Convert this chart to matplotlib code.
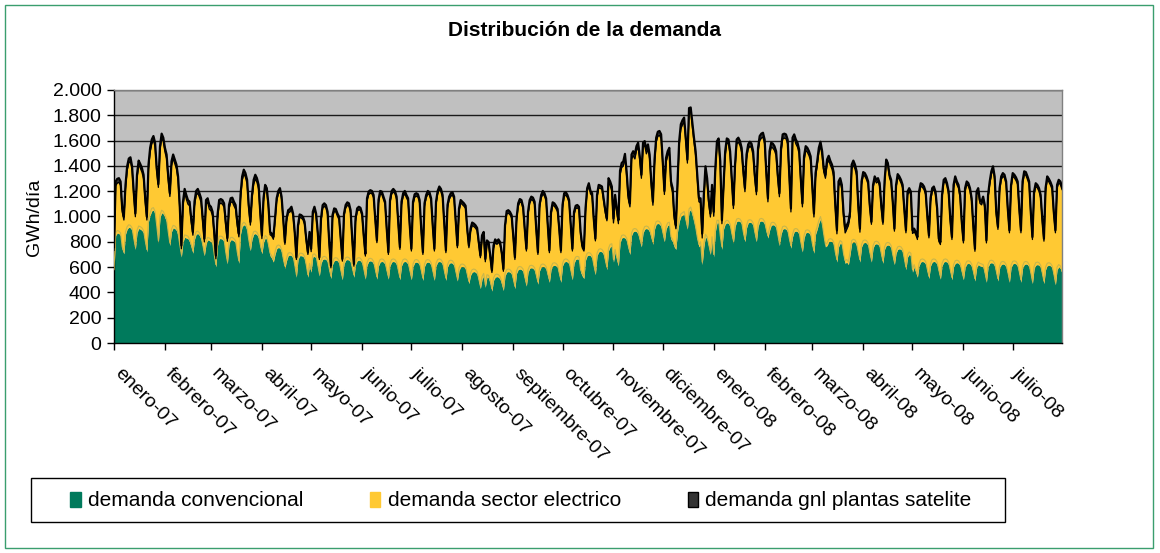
import numpy as np
import pandas as pd
import matplotlib
matplotlib.use("Agg")
import matplotlib.pyplot as plt
import matplotlib.transforms as mtransforms
from matplotlib.patches import Patch, Rectangle

plt.rcParams['font.family'] = ['Liberation Sans', 'DejaVu Sans']

title = "Distribución de la demanda"
ylabel = "GWh/día"
series_names = ["demanda convencional", "demanda sector electrico",
                "demanda gnl plantas satelite"]
month_labels = ["enero-07", "febrero-07", "marzo-07", "abril-07", "mayo-07",
                "junio-07", "julio-07", "agosto-07", "septiembre-07",
                "octubre-07", "noviembre-07", "diciembre-07", "enero-08",
                "febrero-08", "marzo-08", "abril-08", "mayo-08", "junio-08",
                "julio-08"]
start_date = "2007-01-01"
end_date = "2008-07-31"

# total daily demand (GWh/day), one week (Mon..Sun) per line
total_demand = [
    758, 1277, 1298, 1303, 1277, 1064, 998,
    1250, 1397, 1458, 1468, 1397, 1197, 1024,
    1330, 1442, 1415, 1383, 1330, 1144, 998,
    1410, 1543, 1609, 1636, 1583, 1383, 1256,
    1556, 1655, 1623, 1543, 1490, 1317, 1184,
    1436, 1490, 1450, 1410, 1317, 1091, 771,
    1117, 1218, 1170, 1130, 1117, 984, 878,
    1117, 1202, 1218, 1184, 1144, 984, 825,
    1130, 1144, 1091, 1077, 1037, 878, 692,
    1011, 1130, 1138, 1130, 1104, 958, 830,
    1091, 1144, 1149, 1117, 1091, 958, 865,
    1170, 1317, 1370, 1343, 1290, 1091, 958,
    1170, 1290, 1330, 1303, 1250, 1037, 851,
    1144, 1250, 1224, 1091, 878, 865, 838,
    984, 1144, 1202, 1224, 1157, 984, 798,
    984, 1050, 1059, 1077, 1024, 878, 678,
    931, 1016, 1011, 997, 958, 825, 718,
    878, 745, 1037, 1077, 1024, 878, 678,
    984, 1090, 1104, 1090, 1037, 798, 612,
    1011, 1064, 1059, 1024, 997, 825, 665,
    1024, 1091, 1112, 1104, 1050, 825, 625,
    984, 1064, 1077, 1069, 1024, 851, 705,
    1144, 1197, 1208, 1202, 1170, 984, 811,
    1130, 1202, 1197, 1157, 1117, 904, 718,
    1130, 1202, 1218, 1202, 1157, 958, 758,
    1117, 1184, 1202, 1170, 1144, 931, 745,
    1117, 1176, 1184, 1176, 1130, 904, 718,
    1104, 1170, 1202, 1192, 1144, 931, 745,
    1117, 1202, 1237, 1218, 1170, 958, 732,
    1091, 1157, 1184, 1192, 1157, 958, 771,
    1064, 1130, 1117, 1104, 1085, 904, 771,
    904, 952, 944, 931, 910, 798, 692,
    851, 878, 665, 811, 798, 692, 575,
    771, 819, 803, 819, 798, 718, 585,
    931, 1043, 1050, 1037, 1011, 851, 678,
    984, 1104, 1138, 1130, 1077, 904, 745,
    1037, 1130, 1157, 1149, 1117, 904, 718,
    1091, 1170, 1202, 1184, 1144, 931, 732,
    1037, 1112, 1104, 1085, 1059, 904, 732,
    1091, 1184, 1192, 1170, 1130, 931, 745,
    1037, 1085, 1091, 1077, 878, 771, 745,
    1064, 1224, 1263, 1202, 1184, 984, 825,
    1171, 1250, 1245, 1237, 1144, 1050, 984,
    1303, 1277, 1237, 984, 1171, 1064, 971,
    1362, 1423, 1436, 1495, 1357, 1170, 1104,
    1490, 1516, 1490, 1556, 1583, 1476, 1330,
    1583, 1596, 1530, 1570, 1490, 1277, 1117,
    1450, 1623, 1670, 1676, 1650, 1436, 1202,
    1463, 1516, 1543, 1277, 1224, 1011, 931,
    1277, 1596, 1729, 1761, 1782, 1623, 1450,
    1857, 1862, 1742, 1623, 1516, 1330, 1144,
    1144, 865, 1170, 1397, 1303, 1130, 1024,
    1250, 1037, 1383, 1596, 1617, 1436, 971,
    1250, 1516, 1617, 1609, 1516, 1303, 1091,
    1410, 1609, 1623, 1596, 1543, 1370, 1224,
    1490, 1570, 1591, 1576, 1516, 1330, 1200,
    1543, 1636, 1655, 1662, 1609, 1357, 1144,
    1516, 1583, 1576, 1556, 1516, 1330, 1184,
    1543, 1649, 1655, 1649, 1609, 1330, 1064,
    1623, 1649, 1609, 1583, 1530, 1303, 1104,
    1476, 1556, 1543, 1516, 1476, 1250, 1024,
    1343, 1436, 1543, 1591, 1516, 1380, 1330,
    1450, 1480, 1440, 1410, 1350, 1100, 891,
    1277, 1303, 1250, 1037, 904, 931, 958,
    1037, 1410, 1442, 1410, 1357, 1091, 904,
    1277, 1351, 1343, 1317, 1277, 1091, 958,
    1250, 1317, 1290, 1303, 1264, 1091, 958,
    1277, 1450, 1423, 1330, 1290, 1117, 904,
    1250, 1335, 1317, 1290, 1250, 1064, 891,
    1197, 1224, 1197, 891, 904, 878, 838,
    1197, 1263, 1256, 1237, 1197, 1011, 851,
    1144, 1224, 1237, 1197, 1064, 825, 798,
    1171, 1290, 1303, 1264, 1197, 984, 838,
    1250, 1317, 1277, 1250, 1170, 958, 811,
    1224, 1277, 1264, 1224, 1144, 931, 745,
    1197, 1224, 1130, 1117, 1157, 1091, 811,
    1170, 1277, 1357, 1397, 1317, 1037, 918,
    1224, 1317, 1343, 1330, 1277, 1064, 891,
    1250, 1343, 1330, 1309, 1277, 1064, 891,
    1277, 1357, 1351, 1317, 1277, 1037, 838,
    1197, 1263, 1250, 1224, 1170, 984, 825,
    1224, 1317, 1298, 1272, 1237, 1037, 891,
    1250, 1290, 1277, 1237,
]

# conventional demand (GWh/day)
conv_demand = [
    560, 850, 870, 865, 850, 740, 705,
    860, 900, 915, 910, 890, 810, 740,
    870, 905, 900, 890, 870, 790, 720,
    960, 1010, 1045, 1050, 1020, 910, 790,
    990, 1030, 1020, 990, 960, 860, 770,
    880, 910, 905, 890, 850, 760, 680,
    800, 835, 830, 825, 800, 760, 710,
    820, 860, 865, 850, 820, 760, 690,
    780, 815, 810, 800, 780, 680, 600,
    770, 825, 825, 820, 800, 700, 626,
    780, 815, 815, 805, 790, 700, 630,
    860, 920, 935, 925, 890, 800, 730,
    820, 860, 865, 855, 830, 760, 706,
    790, 830, 820, 760, 690, 670, 640,
    700, 745, 755, 750, 720, 650, 590,
    650, 690, 695, 690, 670, 600, 520,
    660, 690, 690, 685, 665, 600, 520,
    610, 560, 680, 685, 670, 600, 530,
    630, 660, 665, 660, 640, 570, 510,
    620, 650, 655, 650, 630, 560, 500,
    625, 655, 660, 655, 640, 580, 520,
    620, 650, 655, 650, 630, 570, 505,
    615, 645, 650, 645, 625, 565, 505,
    610, 640, 645, 640, 620, 560, 505,
    610, 640, 645, 640, 620, 560, 500,
    610, 640, 645, 640, 620, 560, 500,
    605, 635, 640, 635, 615, 555, 495,
    605, 635, 640, 635, 615, 555, 495,
    610, 640, 645, 640, 620, 555, 495,
    600, 630, 635, 630, 610, 550, 490,
    575, 600, 605, 600, 585, 525, 470,
    535, 560, 565, 560, 545, 490, 430,
    505, 530, 440, 520, 515, 470, 410,
    495, 520, 525, 520, 505, 465, 415,
    530, 560, 565, 560, 545, 490, 430,
    550, 580, 585, 580, 565, 505, 450,
    560, 590, 595, 590, 575, 520, 465,
    570, 600, 605, 600, 585, 530, 480,
    580, 610, 615, 610, 595, 535, 480,
    610, 640, 645, 640, 625, 560, 500,
    630, 660, 665, 660, 560, 530, 510,
    655, 690, 695, 690, 670, 600, 540,
    690, 720, 725, 720, 700, 640, 580,
    730, 760, 765, 640, 720, 660, 610,
    790, 830, 835, 830, 810, 750, 700,
    850, 880, 885, 880, 860, 810, 760,
    870, 900, 905, 900, 880, 830, 780,
    900, 940, 945, 940, 920, 860, 800,
    900, 930, 935, 820, 800, 760, 740,
    880, 960, 1000, 1010, 1020, 960, 900,
    1040, 1055, 1010, 960, 900, 820, 760,
    780, 620, 760, 840, 820, 760, 700,
    820, 680, 880, 950, 950, 830, 740,
    900, 940, 950, 945, 920, 850, 790,
    920, 960, 965, 960, 940, 860, 800,
    910, 950, 955, 950, 930, 860, 800,
    920, 960, 965, 960, 940, 880, 830,
    890, 930, 935, 930, 910, 840, 770,
    860, 900, 905, 900, 880, 810, 750,
    840, 880, 885, 880, 860, 780, 720,
    830, 870, 875, 870, 850, 770, 710,
    860, 900, 950, 980, 930, 840, 760,
    770, 800, 805, 800, 780, 700, 640,
    760, 790, 780, 690, 630, 640, 620,
    700, 790, 800, 795, 770, 700, 640,
    760, 790, 795, 790, 770, 700, 640,
    750, 780, 785, 780, 760, 690, 630,
    740, 770, 775, 770, 750, 680, 620,
    710, 740, 745, 740, 720, 650, 580,
    680, 700, 690, 560, 600, 560, 520,
    610, 640, 645, 640, 625, 565, 510,
    610, 640, 645, 640, 620, 560, 505,
    610, 640, 645, 640, 620, 560, 500,
    600, 630, 635, 630, 610, 555, 500,
    595, 625, 630, 625, 605, 550, 490,
    590, 620, 610, 605, 600, 545, 480,
    600, 630, 635, 630, 610, 550, 490,
    590, 620, 625, 620, 600, 545, 480,
    595, 625, 630, 625, 605, 545, 480,
    590, 620, 625, 620, 600, 540, 470,
    585, 615, 620, 615, 595, 535, 470,
    580, 610, 615, 610, 590, 530, 460,
    580, 600, 590, 550,
]

# LNG satellite plants demand (GWh/day)
gnl_demand = (
    [26, 32, 33, 33, 32, 28, 26]
    + [32, 33, 33, 33, 32, 28, 26] * 12
    + [22, 23, 23, 23, 22, 19, 18] * 30
    + [34, 35, 35, 35, 34, 30, 28] * 22
    + [24, 25, 25, 25, 24, 21, 20] * 17
    + [24, 25, 25, 24]
)

dates = pd.date_range(start_date, end_date, freq="D")
total = np.array(total_demand, dtype=float)
conv = np.array(conv_demand, dtype=float)
gnl = np.array(gnl_demand, dtype=float)
elec = total - conv - gnl

c_green = "#007A5C"
c_yellow = "#FFC933"
c_gnl = "#333333"

fig = plt.figure(figsize=(11.6, 5.53), dpi=100)
fig.patch.set_facecolor("white")
ax = fig.add_axes([114 / 1160, 1 - 343 / 553, 948 / 1160, 253 / 553])
ax.set_facecolor("#C0C0C0")

x = dates
ax.fill_between(x, 0, conv, color=c_green, lw=0, zorder=2)
ax.fill_between(x, conv, conv + elec, color=c_yellow, lw=0, zorder=2)
ax.fill_between(x, conv + elec, total, color=c_gnl, lw=0, zorder=2)
off = mtransforms.offset_copy(ax.transData, fig=fig, x=0, y=2.5, units="dots")
ax.plot(x, conv, color="#C9B64A", lw=0.8, zorder=3, transform=off)
ax.plot(x, conv + elec, color="black", lw=0.9, zorder=4)
ax.plot(x, total, color="black", lw=1.6, zorder=5)

ax.set_ylim(0, 2000)
ax.set_xlim(dates[0], dates[-1])
ax.set_yticks(np.arange(0, 2001, 200))
ax.set_yticklabels([f"{v:,}".replace(",", ".") for v in range(0, 2001, 200)])
ax.yaxis.grid(True, color="#1a1a1a", lw=1.0, zorder=1)
ax.set_axisbelow(True)

ticks = pd.date_range("2007-01-01", "2008-07-01", freq="MS")
ax.set_xticks(ticks)
ax.set_xticklabels(month_labels, rotation=-45, ha="left", va="top",
                   rotation_mode="anchor")
ax.tick_params(axis="x", direction="out", length=5, width=1, pad=11,
               labelsize=14)
ax.tick_params(axis="y", direction="out", length=5, width=1, pad=4,
               labelsize=14)
shift = mtransforms.ScaledTranslation(9 / 100, 0, fig.dpi_scale_trans)
for lab in ax.get_xticklabels():
    lab.set_transform(lab.get_transform() + shift)

for s in ["left", "bottom"]:
    ax.spines[s].set_color("black")
    ax.spines[s].set_linewidth(1.0)
for s in ["top", "right"]:
    ax.spines[s].set_color("#808080")
    ax.spines[s].set_linewidth(1.0)

fig.text(585 / 1160, 1 - 30 / 553, title, ha="center", va="center",
         fontsize=15, fontweight="bold")
fig.text(34 / 1160, 1 - 217 / 553, ylabel, ha="center", va="center",
         rotation=90, fontsize=14)

# legend box
fig.patches.append(Rectangle((31 / 1160, 1 - 522 / 553), 974 / 1160, 44 / 553,
                             transform=fig.transFigure, fill=False,
                             edgecolor="black", lw=1.0))
handles = [Patch(facecolor=c_green, edgecolor=c_green),
           Patch(facecolor=c_yellow, edgecolor=c_yellow),
           Patch(facecolor=c_gnl, edgecolor="black")]
fig.legend(handles, series_names, loc="center",
           bbox_to_anchor=(521 / 1160, 1 - 501 / 553), ncol=3, frameon=False,
           fontsize=15, handlelength=0.5, handleheight=0.75,
           handletextpad=0.35, columnspacing=3.2)

# outer frame
fig.patches.append(Rectangle((5 / 1160, 5 / 553), 1148 / 1160, 543 / 553,
                             transform=fig.transFigure, fill=False,
                             edgecolor="#3A9E6E", lw=1.0))

fig.savefig("out.png", dpi=100)
